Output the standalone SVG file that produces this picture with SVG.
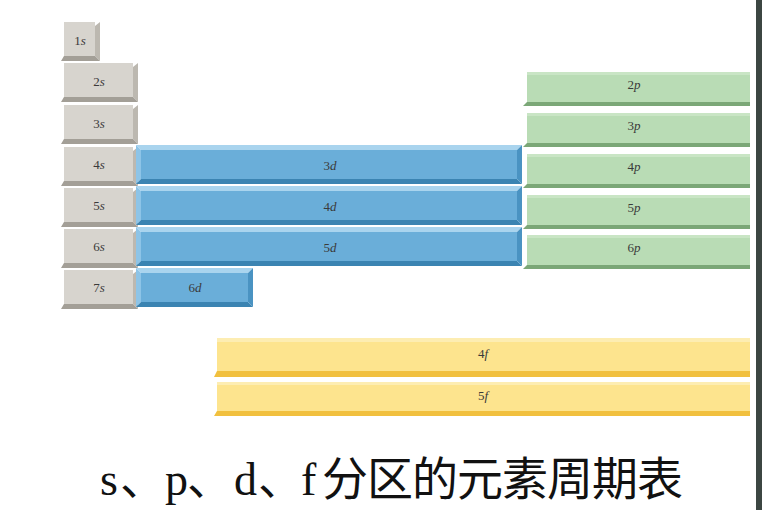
<svg xmlns="http://www.w3.org/2000/svg" width="762" height="510" viewBox="0 0 762 510">
<style>
.lab{font-family:"Liberation Serif",serif;font-size:13px;fill:#3a3a3a;text-anchor:middle}
.it{font-style:italic}
.gf{fill:#d7d4ce}.gr{fill:#bcb8b0}.gb{fill:#a39f97}
.bf{fill:#6aaed9}.bt{fill:#a9d4ee}.bl{fill:#8dc4e7}.bb{fill:#3b84b2}.br{fill:#4a93c2}
.pf{fill:#b9dcb5}.pt{fill:#c9e5c5}.pb{fill:#7ba777}
.yf{fill:#fde48e}.yt{fill:#fdedb2}.yb{fill:#f1c03e}
.title{font-family:"Liberation Serif","Noto Sans CJK SC",serif;font-size:46px;fill:#111}
</style>
<rect x="0" y="0" width="762" height="510" fill="#ffffff"/>
<rect x="756" y="0" width="6" height="510" fill="#3c4642"/>

<!-- s block -->
<g id="s1">
<rect class="gf" x="64" y="22" width="31" height="34"/>
<polygon class="gr" points="95,26 100,22 100,61 95,56"/>
<polygon class="gb" points="61,61 64,56 95,56 100,61"/>
<text class="lab" x="80" y="45">1<tspan class="it">s</tspan></text>
</g>
<g id="s2">
<rect class="gf" x="64" y="63" width="69" height="34"/>
<polygon class="gr" points="133,67 138,63 138,102 133,97"/>
<polygon class="gb" points="61,102 64,97 133,97 138,102"/>
<text class="lab" x="99" y="86">2<tspan class="it">s</tspan></text>
</g>
<g id="s3">
<rect class="gf" x="64" y="105" width="69" height="34"/>
<polygon class="gr" points="133,109 138,105 138,144 133,139"/>
<polygon class="gb" points="61,144 64,139 133,139 138,144"/>
<text class="lab" x="99" y="128">3<tspan class="it">s</tspan></text>
</g>
<g id="s4">
<rect class="gf" x="64" y="147" width="69" height="34"/>
<polygon class="gr" points="133,151 138,147 138,186 133,181"/>
<polygon class="gb" points="61,186 64,181 133,181 138,186"/>
<text class="lab" x="99" y="169">4<tspan class="it">s</tspan></text>
</g>
<g id="s5">
<rect class="gf" x="64" y="188" width="69" height="34"/>
<polygon class="gr" points="133,192 138,188 138,227 133,222"/>
<polygon class="gb" points="61,227 64,222 133,222 138,227"/>
<text class="lab" x="99" y="210">5<tspan class="it">s</tspan></text>
</g>
<g id="s6">
<rect class="gf" x="64" y="229" width="69" height="34"/>
<polygon class="gr" points="133,233 138,229 138,268 133,263"/>
<polygon class="gb" points="61,268 64,263 133,263 138,268"/>
<text class="lab" x="99" y="251">6<tspan class="it">s</tspan></text>
</g>
<g id="s7">
<rect class="gf" x="64" y="270" width="69" height="34"/>
<polygon class="gr" points="133,274 138,270 138,309 133,304"/>
<polygon class="gb" points="61,309 64,304 133,304 138,309"/>
<text class="lab" x="99" y="292">7<tspan class="it">s</tspan></text>
</g>

<!-- d block -->
<g id="d3">
<rect class="bf" x="141" y="150" width="376" height="29"/>
<polygon class="bt" points="136,145 522,145 517,150 141,150"/>
<polygon class="bl" points="136,145 141,150 141,179 136,184"/>
<polygon class="bb" points="136,184 141,179 517,179 522,184"/>
<polygon class="br" points="522,145 517,150 517,179 522,184"/>
<text class="lab" x="330" y="170">3<tspan class="it">d</tspan></text>
</g>
<g id="d4">
<rect class="bf" x="141" y="191" width="376" height="29"/>
<polygon class="bt" points="136,186 522,186 517,191 141,191"/>
<polygon class="bl" points="136,186 141,191 141,220 136,225"/>
<polygon class="bb" points="136,225 141,220 517,220 522,225"/>
<polygon class="br" points="522,186 517,191 517,220 522,225"/>
<text class="lab" x="330" y="211">4<tspan class="it">d</tspan></text>
</g>
<g id="d5">
<rect class="bf" x="141" y="232" width="376" height="29"/>
<polygon class="bt" points="136,227 522,227 517,232 141,232"/>
<polygon class="bl" points="136,227 141,232 141,261 136,266"/>
<polygon class="bb" points="136,266 141,261 517,261 522,266"/>
<polygon class="br" points="522,227 517,232 517,261 522,266"/>
<text class="lab" x="330" y="252">5<tspan class="it">d</tspan></text>
</g>
<g id="d6">
<rect class="bf" x="141" y="273" width="107" height="29"/>
<polygon class="bt" points="136,268 253,268 248,273 141,273"/>
<polygon class="bl" points="136,268 141,273 141,302 136,307"/>
<polygon class="bb" points="136,307 141,302 248,302 253,307"/>
<polygon class="br" points="253,268 248,273 248,302 253,307"/>
<text class="lab" x="195" y="292">6<tspan class="it">d</tspan></text>
</g>

<!-- p block -->
<g id="p2">
<rect class="pf" x="527" y="72" width="223" height="30"/>
<rect class="pt" x="527" y="72" width="223" height="3"/>
<polygon class="pb" points="523,106 527,102 750,102 750,106"/>
<text class="lab" x="634" y="89">2<tspan class="it">p</tspan></text>
</g>
<g id="p3">
<rect class="pf" x="527" y="113" width="223" height="30"/>
<rect class="pt" x="527" y="113" width="223" height="3"/>
<polygon class="pb" points="523,147 527,143 750,143 750,147"/>
<text class="lab" x="634" y="130">3<tspan class="it">p</tspan></text>
</g>
<g id="p4">
<rect class="pf" x="527" y="154" width="223" height="30"/>
<rect class="pt" x="527" y="154" width="223" height="3"/>
<polygon class="pb" points="523,188 527,184 750,184 750,188"/>
<text class="lab" x="634" y="171">4<tspan class="it">p</tspan></text>
</g>
<g id="p5">
<rect class="pf" x="527" y="195" width="223" height="30"/>
<rect class="pt" x="527" y="195" width="223" height="3"/>
<polygon class="pb" points="523,229 527,225 750,225 750,229"/>
<text class="lab" x="634" y="212">5<tspan class="it">p</tspan></text>
</g>
<g id="p6">
<rect class="pf" x="527" y="235" width="223" height="30"/>
<rect class="pt" x="527" y="235" width="223" height="3"/>
<polygon class="pb" points="523,269 527,265 750,265 750,269"/>
<text class="lab" x="634" y="252">6<tspan class="it">p</tspan></text>
</g>

<!-- f block -->
<g id="f4">
<rect class="yf" x="217" y="338" width="533" height="33"/>
<rect class="yt" x="217" y="338" width="533" height="4"/>
<polygon class="yb" points="214,377 217,371 750,371 750,377"/>
<text class="lab" x="483" y="358">4<tspan class="it">f</tspan></text>
</g>
<g id="f5">
<rect class="yf" x="217" y="382" width="533" height="29"/>
<rect class="yt" x="217" y="382" width="533" height="3"/>
<polygon class="yb" points="214,416 217,411 750,411 750,416"/>
<text class="lab" x="483" y="400">5<tspan class="it">f</tspan></text>
</g>

<text class="title" x="100 120 165 187 234 258 301 322 367 412 457 502 547 592 637" y="495">s、p、d、f分区的元素周期表</text>
</svg>
